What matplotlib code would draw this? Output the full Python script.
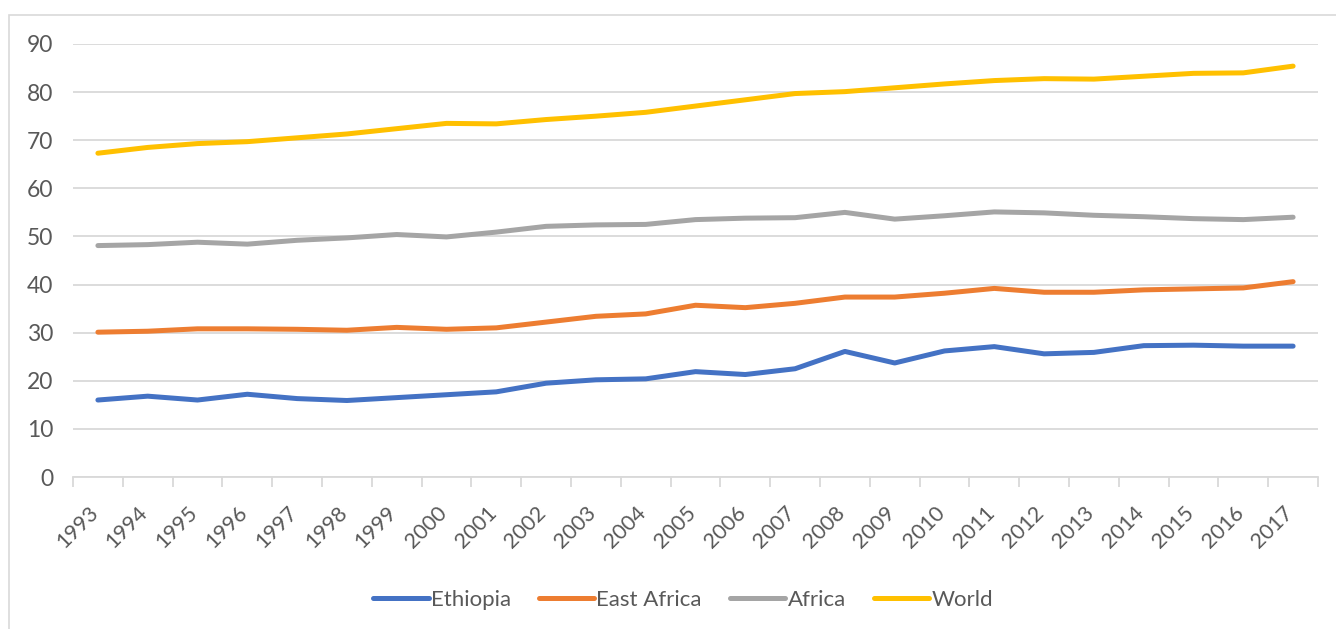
import matplotlib.pyplot as plt
import matplotlib.transforms as mtransforms
import numpy as np
from matplotlib.patches import Rectangle

# ========== 数据 ==========
years = [str(y) for y in range(1993, 2018)]
ethiopia = [16.0, 16.8, 16.0, 17.2, 16.3, 15.9, 16.5, 17.1, 17.7, 19.5, 20.2, 20.4, 21.9,
            21.3, 22.5, 26.1, 23.7, 26.2, 27.1, 25.6, 25.9, 27.3, 27.4, 27.2, 27.2]
east_africa = [30.1, 30.3, 30.8, 30.8, 30.7, 30.5, 31.1, 30.7, 31.0, 32.2, 33.4, 33.9, 35.7,
               35.2, 36.1, 37.4, 37.4, 38.2, 39.2, 38.4, 38.4, 38.9, 39.1, 39.3, 40.6]
africa = [48.1, 48.3, 48.8, 48.4, 49.2, 49.7, 50.4, 49.9, 50.9, 52.1, 52.4, 52.5, 53.5,
          53.8, 53.9, 55.0, 53.6, 54.3, 55.1, 54.9, 54.4, 54.1, 53.7, 53.5, 54.0]
world = [67.3, 68.5, 69.3, 69.7, 70.5, 71.3, 72.4, 73.5, 73.4, 74.3, 75.0, 75.8, 77.1,
         78.4, 79.7, 80.1, 80.9, 81.7, 82.4, 82.8, 82.7, 83.3, 83.9, 84.0, 85.4]

series = [("Ethiopia", ethiopia, "#4472C4"),
          ("East Africa", east_africa, "#ED7D31"),
          ("Africa", africa, "#A5A5A5"),
          ("World", world, "#FFC000")]

plt.rcParams['font.family'] = ['Lato', 'DejaVu Sans']
text_color = "#595959"
grid_color = "#D9D9D9"

W, H = 1336, 629
fig = plt.figure(figsize=(W / 100, H / 100), dpi=100)

# 外框
fig.patches.append(Rectangle((9 / W, -0.1), 1.2, 1 - 15 / H + 0.1, transform=fig.transFigure,
                             fill=False, edgecolor=grid_color, linewidth=1.2))

ax = fig.add_axes([73 / W, 1 - 477 / H, (1318 - 73) / W, (477 - 44) / H])

x = np.arange(len(years))
for name, vals, color in series:
    ax.plot(x, vals, color=color, linewidth=3.6, solid_capstyle='round', label=name)

ax.set_xlim(-0.5, len(years) - 0.5)
ax.set_ylim(0, 90)
ax.set_yticks(range(0, 91, 10))
ax.yaxis.grid(True, color=grid_color, linewidth=1.3)
ax.set_axisbelow(True)

for side in ['top', 'right', 'left']:
    ax.spines[side].set_visible(False)
ax.spines['bottom'].set_color(grid_color)
ax.spines['bottom'].set_linewidth(1.3)

ax.tick_params(axis='y', length=0, pad=14, labelsize=16.5, labelcolor=text_color)

# 类别边界上的刻度线，年份标签放在类别中心
ax.set_xticks(np.arange(-0.5, len(years), 1.0))
ax.set_xticklabels([])
ax.tick_params(axis='x', which='major', length=7, width=1.3, color=grid_color)
ax.set_xticks(x, labels=years, minor=True)
ax.tick_params(axis='x', which='minor', length=0, pad=18.5, labelsize=15.5,
               labelcolor=text_color, labelrotation=45)
shift = mtransforms.ScaledTranslation(-0.10, 0, fig.dpi_scale_trans)
for lbl in ax.get_xticklabels(minor=True):
    lbl.set_ha('right')
    lbl.set_va('top')
    lbl.set_rotation_mode('anchor')
    lbl.set_transform(lbl.get_transform() + shift)

leg = fig.legend(loc='center', bbox_to_anchor=(0.5 + 15 / W, 1 - 600 / H), ncol=4,
                 frameon=False, fontsize=16, handlelength=2.5, handletextpad=0.1,
                 columnspacing=1.25)
for t in leg.get_texts():
    t.set_color(text_color)

fig.savefig("out.png", dpi=100)
